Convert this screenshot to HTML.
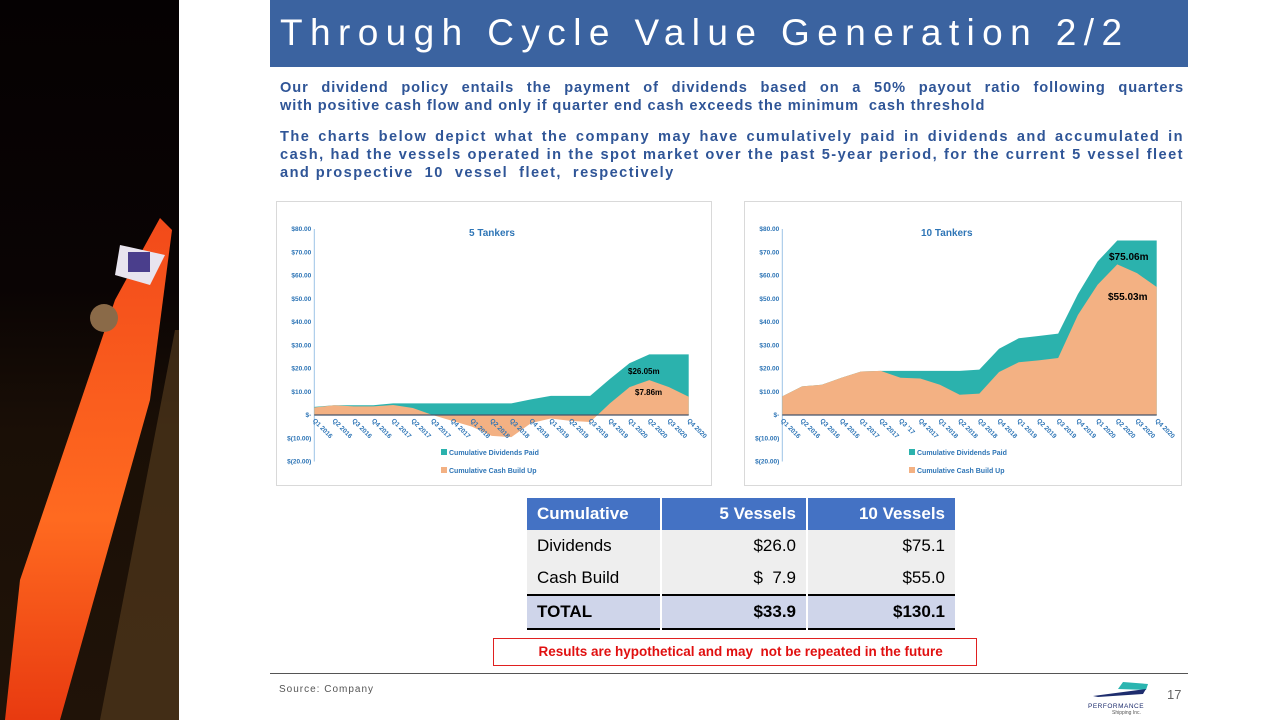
<!DOCTYPE html>
<html><head><meta charset="utf-8"><style>
body{margin:0;width:1280px;height:720px;position:relative;overflow:hidden;background:#fff;font-family:"Liberation Sans",sans-serif}
.abs{position:absolute}
.p{color:#2f5597;font-weight:bold;font-size:14.6px;line-height:18px;text-align:justify;letter-spacing:1.45px}
.j{text-align-last:justify;white-space:nowrap}
table{border-collapse:collapse;font-family:"Liberation Sans",sans-serif;font-size:17px}
td{height:32px;padding:0 10px;border-right:2px solid #fff}
</style></head><body>
<div class="abs" style="left:0;top:0;width:179px;height:720px;background:linear-gradient(180deg,#050102 0%,#0a0404 40%,#1a0f06 60%,#201308 100%)">
<svg width="179" height="720" style="position:absolute;left:0;top:0">
<defs><linearGradient id="sg" x1="0" y1="0" x2="0" y2="1"><stop offset="0" stop-color="#f24a1a"/><stop offset="0.6" stop-color="#ff6a20"/><stop offset="1" stop-color="#e83a10"/></linearGradient></defs>
<polygon points="160,218 172,230 150,400 60,720 5,720 20,580 115,300" fill="url(#sg)"/>
<polygon points="120,245 165,255 150,285 115,275" fill="#e8e4ee"/>
<rect x="128" y="252" width="22" height="20" fill="#4a3e8c"/>
<circle cx="104" cy="318" r="14" fill="#8a6a48"/>
<polygon points="175,330 179,330 179,720 100,720" fill="#5a4020" opacity="0.6"/>
</svg></div>
<div class="abs" style="left:270px;top:0;width:918px;height:67px;background:#3b63a0"></div>
<div class="abs" style="left:280px;top:12px;color:#fff;font-size:37px;letter-spacing:7.4px;white-space:nowrap">Through Cycle Value Generation 2/2</div>
<div class="abs p" style="left:280px;top:79px;width:904px;letter-spacing:0.9px"><div class="j">Our dividend policy entails the payment of dividends based on a 50% payout ratio following quarters</div><div>with positive cash flow and only if quarter end cash exceeds the minimum&nbsp; cash threshold</div></div>
<div class="abs p" style="left:280px;top:128px;width:904px">The charts below depict what the company may have cumulatively paid in dividends and accumulated in cash, had the vessels operated in the spot market over the past 5-year period, for the current 5 vessel fleet and prospective&nbsp; 10&nbsp; vessel&nbsp; fleet,&nbsp; respectively</div>
<svg id="c1" class="abs" style="left:276px;top:201px" width="436" height="285"></svg>
<svg id="c2" class="abs" style="left:744px;top:201px" width="438" height="285"></svg>
<table class="abs" style="left:527px;top:498px;width:430px">
<tr style="background:#4472c4;color:#fff;font-weight:bold"><td style="width:113px">Cumulative</td><td style="text-align:right;width:124px">5 Vessels</td><td style="text-align:right">10 Vessels</td></tr>
<tr style="background:#eeeeee"><td>Dividends</td><td style="text-align:right">$26.0</td><td style="text-align:right">$75.1</td></tr>
<tr style="background:#eeeeee;border-bottom:2px solid #000"><td>Cash Build</td><td style="text-align:right">$&nbsp; 7.9</td><td style="text-align:right">$55.0</td></tr>
<tr style="background:#cfd5ea;font-weight:bold;border-bottom:2px solid #000"><td>TOTAL</td><td style="text-align:right">$33.9</td><td style="text-align:right">$130.1</td></tr>
</table>
<div class="abs" style="left:493px;top:638px;width:482px;height:26px;border:1px solid #e02020;color:#e01010;font-weight:bold;font-size:13.5px;line-height:26px;text-align:center">&nbsp;&nbsp;&nbsp;Results are hypothetical and may&nbsp; not be repeated in the future</div>
<div class="abs" style="left:270px;top:673px;width:918px;height:1px;background:#555"></div>
<div class="abs" style="left:279px;top:684px;font-size:10px;color:#555;letter-spacing:1px">Source: Company</div>
<div class="abs" style="left:1088px;top:680px;width:62px;height:36px">
<svg width="62" height="20"><polygon points="35,2 60,4 58,10 30,9" fill="#2ab5b0"/><polygon points="5,16 58,9 55,14 10,17" fill="#1e2d6e"/></svg>
<div style="font-size:6.5px;color:#1e2d6e;letter-spacing:0.5px;margin-top:-2px">PERFORMANCE</div>
<div style="font-size:5px;color:#555;margin-left:24px">Shipping Inc.</div></div>
<div class="abs" style="left:1167px;top:687px;font-size:13px;color:#666">17</div>
<script>
const quarters=["Q1 2016","Q2 2016","Q3 2016","Q4 2016","Q1 2017","Q2 2017","Q3 2017","Q4 2017","Q1 2018","Q2 2018","Q3 2018","Q4 2018","Q1 2019","Q2 2019","Q3 2019","Q4 2019","Q1 2020","Q2 2020","Q3 2020","Q4 2020"];
const quarters10=["Q1 2016","Q2 2016","Q3 2016","Q4 2016","Q1 2017","Q2 2017","Q3 ’17","Q4 2017","Q1 2018","Q2 2018","Q3 2018","Q4 2018","Q1 2019","Q2 2019","Q3 2019","Q4 2019","Q1 2020","Q2 2020","Q3 2020","Q4 2020"];
const yTicks=[80,70,60,50,40,30,20,10,0,-10,-20];
const yTickLabels=["$80.00","$70.00","$60.00","$50.00","$40.00","$30.00","$20.00","$10.00","$-","$(10.00)","$(20.00)"];
const div5=[3.5,4.2,4.2,4.2,5,5,5,5,5,5,5,6.7,8.2,8.2,8.2,15.5,22.3,26.05,26.05,26.05];
const cash5=[3.2,4.2,3.7,3.7,4.3,3.0,0,-2.5,-5,-9,-9.5,-3.5,-1.5,-2.5,-3,5,12,15,12,7.86];
const div10=[8,12.3,13,16,18.7,19,19,19,19,19,19.5,28.5,33,34,35,52,66,75.06,75.06,75.06];
const cash10=[8,12.3,13,16,18.7,19,16,15.7,13,8.7,9.2,18.5,22.7,23.5,24.5,43,56,64.8,61,55.03];
const NS="http://www.w3.org/2000/svg";
function mk(svg,tag,attrs,txt){const e=document.createElementNS(NS,tag);for(const k in attrs)e.setAttribute(k,attrs[k]);if(txt!=null)e.textContent=txt;svg.appendChild(e);return e;}
function draw(id,cats,div,cash,title,titleX,lblDiv,lblDivPos,lblCash,lblCashPos,leg){
 const svg=document.getElementById(id);
 const W=+svg.getAttribute('width');
 mk(svg,'rect',{x:0.5,y:0.5,width:W-1,height:284,fill:'#fff',stroke:'#d9d9d9'});
 const x0=38.3,x1=412.7;
 const X=i=>x0+i*(x1-x0)/(cats.length-1);
 const Y=v=>214-v*186/80;
 mk(svg,'line',{x1:x0,y1:Y(80),x2:x0,y2:Y(-20),stroke:'#9dc3e6','stroke-width':1});
 yTicks.forEach((t,i)=>{const e=mk(svg,'text',{x:x0-3,y:Y(t)+2,'text-anchor':'end','font-size':6.5,'font-weight':'bold',fill:'#2e75b6'},yTickLabels[i]);
 
 });
 function area(vals,color,name){let d='M'+X(0)+','+Y(0);vals.forEach((v,i)=>d+='L'+X(i)+','+Y(v));d+='L'+X(vals.length-1)+','+Y(0)+'Z';
 const p=mk(svg,'path',{d:d,fill:color});
 
 }
 area(div,'#2bb2ad','dividends-area');
 area(cash,'#f3b183','cash-area');
 mk(svg,'line',{x1:x0,y1:Y(0),x2:x1,y2:Y(0),stroke:'#44546a','stroke-width':1.3});
 cats.forEach((c,i)=>{const e=mk(svg,'text',{x:X(i)-2,y:Y(0)+6,'font-size':6.5,'font-weight':'bold',fill:'#2e75b6',transform:`rotate(45 ${X(i)-2} ${Y(0)+6})`},c);
 
 });
 const t=mk(svg,'text',{x:titleX,y:35,'font-size':10,'font-weight':'bold',fill:'#2e75b6'},title);
 
 
 const a=mk(svg,'text',{x:lblDivPos[0],y:lblDivPos[1],'font-size':lblDivPos[2],'font-weight':'bold',fill:'#000'},lblDiv);
 
 
 const b=mk(svg,'text',{x:lblCashPos[0],y:lblCashPos[1],'font-size':lblCashPos[2],'font-weight':'bold',fill:'#000'},lblCash);
 
 
 [['#2bb2ad',leg[0],254],['#f3b183',leg[1],272]].forEach(l=>{mk(svg,'rect',{x:165,y:l[2]-6,width:6,height:6,fill:l[0]});
 const e=mk(svg,'text',{x:173,y:l[2],'font-size':7,'font-weight':'bold',fill:'#2e75b6'},l[1]);
 
 });
}
draw('c1',quarters,div5,cash5,'5 Tankers',193,'$26.05m',[352,173,8],'$7.86m',[359,194,8],['Cumulative Dividends Paid','Cumulative Cash Build Up']);
draw('c2',quarters10,div10,cash10,'10 Tankers',177,'$75.06m',[365,59,10],'$55.03m',[364,99,10],['Cumulative  Dividends  Paid','Cumulative  Cash  Build  Up']);
</script>
</body></html>
